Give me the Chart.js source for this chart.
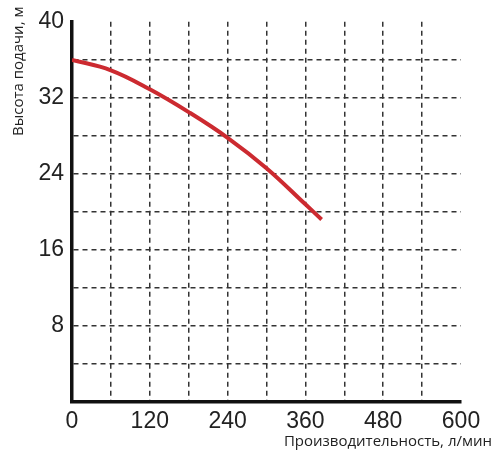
<!DOCTYPE html>
<html><head><meta charset="utf-8">
<script src="https://cdn.jsdelivr.net/npm/chart.js@4"></script>
<style>html,body{margin:0;padding:0;background:#fff}#w{width:500px;height:450px}</style>
</head><body><div id="w"><canvas id="c"></canvas></div>
<script>
const flowX = [0, 60, 120, 180, 240, 300, 360, 385];
const headY = [36, 34.9, 32.9, 30.5, 27.8, 24.6, 20.8, 19.2];
const xTitle = 'Производительность, л/мин';
const yTitle = 'Высота подачи, м';

const titles = {
  id: 'titles',
  afterDraw(chart) {
    const ctx = chart.ctx;
    ctx.save();
    ctx.fillStyle = '#222';
    ctx.font = '15px "Open Sans", "DejaVu Sans", sans-serif';
    ctx.textAlign = 'right';
    ctx.textBaseline = 'alphabetic';
    ctx.fillText(xTitle, 492, 446);
    ctx.translate(23, 136);
    ctx.rotate(-Math.PI / 2);
    ctx.textAlign = 'left';
    ctx.fillText(yTitle, 0, 0);
    ctx.restore();
  }
};

const gridColor = (ctx, skip) => {
  const v = ctx.tick ? ctx.tick.value : null;
  return (v === 0 || v === skip) ? 'rgba(0,0,0,0)' : '#333';
};

new Chart(document.getElementById('c'), {
  type: 'scatter',
  data: { datasets: [{
    data: flowX.map((x, i) => ({ x, y: headY[i] })),
    showLine: true, borderColor: '#cc2a30', borderWidth: 4,
    pointRadius: 0, tension: 0.4
  }]},
  options: {
    responsive: true, maintainAspectRatio: false, animation: false,
    layout: { padding: { top: 8, right: 39, left: 0, bottom: 0 } },
    plugins: { legend: { display: false }, tooltip: { enabled: false } },
    scales: {
      x: {
        type: 'linear', min: 0, max: 600,
        afterFit(s) { s.height = 48; },
        ticks: { stepSize: 60, autoSkip: false, padding: 6, color: '#222',
          maxRotation: 0, minRotation: 0,
          font: { size: 23, family: '"Liberation Sans", Arial, sans-serif' },
          callback: v => (v % 120 === 0 ? String(v) : '') },
        grid: { drawTicks: false, lineWidth: 1.5, color: c => gridColor(c, 600) },
        border: { display: true, width: 3.5, color: '#111', dash: [5, 4] }
      },
      y: {
        min: 0, max: 40,
        afterFit(s) { s.width = 72; },
        ticks: { stepSize: 4, autoSkip: false, padding: 8, color: '#222',
          font: { size: 23, family: '"Liberation Sans", Arial, sans-serif' },
          callback: v => (v % 8 === 0 && v !== 0 ? String(v) : '') },
        grid: { drawTicks: false, lineWidth: 1.5, color: c => gridColor(c, 40) },
        border: { display: true, width: 3.5, color: '#111', dash: [5, 4] }
      }
    }
  },
  plugins: [titles]
});
</script></body></html>
